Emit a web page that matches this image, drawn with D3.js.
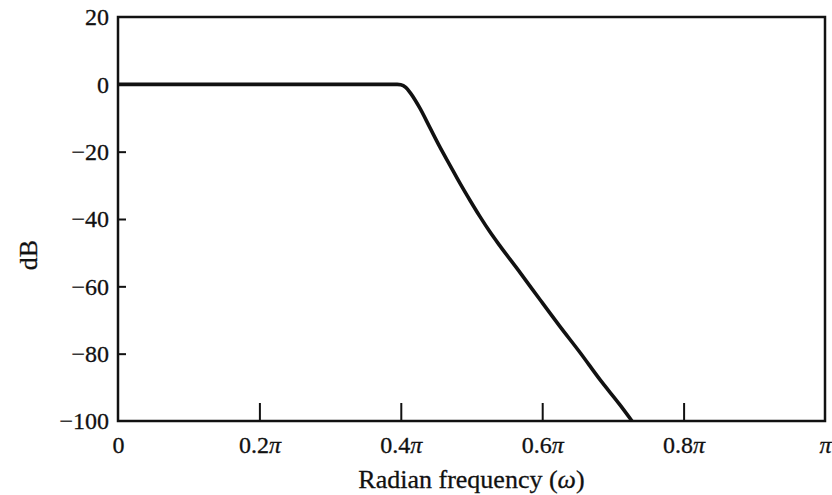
<!DOCTYPE html>
<html>
<head>
<meta charset="utf-8">
<script src="https://cdn.jsdelivr.net/npm/d3@7"></script>
<style>
  body { margin: 0; background: #fff; }
  svg { display: block; font-family: "Liberation Serif", "DejaVu Serif", serif; }
  .axis path { display: none; }
  .axis line { stroke: #111; stroke-width: 2; }
  .axis text { fill: #111; stroke: #111; stroke-width: 0.3; font-size: 24px; font-family: "Liberation Serif", "DejaVu Serif", serif; }
</style>
</head>
<body>
<svg width="832" height="495"></svg>
<script>
// frequency in units of pi, magnitude in dB
var freq = [0, 0.1, 0.2, 0.3, 0.38, 0.395, 0.400, 0.407, 0.414, 0.427, 0.441, 0.455, 0.470, 0.484, 0.498, 0.512, 0.526, 0.540, 0.569, 0.597, 0.625, 0.654, 0.682, 0.710, 0.727];
var gainDb = [0, 0, 0, 0, 0, 0, -0.1, -0.9, -2.7, -7.1, -12.8, -18.5, -24.2, -29.5, -34.5, -39.3, -43.8, -47.9, -56.0, -64.0, -71.9, -79.8, -87.8, -95.2, -100];
var xTicks = [0, 0.2, 0.4, 0.6, 0.8, 1];
var yTicks = [-100, -80, -60, -40, -20, 0, 20];

var svg = d3.select('svg');
var mLeft = 118, mRight = 825, mTop = 17, mBottom = 421;

var x = d3.scaleLinear().domain([0, 1]).range([mLeft, mRight]);
var y = d3.scaleLinear().domain([-100, 20]).range([mBottom, mTop]);

// x axis, ticks pointing up into the plot
var xAxis = svg.append('g')
    .attr('class', 'axis')
    .attr('transform', 'translate(0,' + mBottom + ')')
    .call(d3.axisBottom(x).tickValues(xTicks).tickSizeInner(-18).tickSizeOuter(0).tickPadding(15).tickFormat(''));

xAxis.selectAll('.tick text').each(function(d) {
    var t = d3.select(this);
    if (d !== 0) {
        if (d !== 1) t.append('tspan').text(d3.format('.1f')(d));
        t.append('tspan').attr('font-style', 'italic').text('\u03c0');
    } else {
        t.text('0');
    }
});
xAxis.selectAll('.tick line').filter(function(d) { return d === 0 || d === 1; }).remove();

// y axis, ticks pointing right
var yAxis = svg.append('g')
    .attr('class', 'axis')
    .attr('transform', 'translate(' + mLeft + ',0)')
    .call(d3.axisLeft(y).tickValues(yTicks).tickSizeInner(-8).tickSizeOuter(0).tickPadding(9)
        .tickFormat(function(d) { return d < 0 ? '\u2212' + Math.abs(d) : d; }));
yAxis.selectAll('.tick line').filter(function(d) { return d === -100 || d === 20; }).remove();

// frame
svg.append('rect')
    .attr('x', mLeft)
    .attr('y', mTop)
    .attr('width', mRight - mLeft)
    .attr('height', mBottom - mTop)
    .attr('fill', 'none')
    .attr('stroke', '#111')
    .attr('stroke-width', 2.5);

// response curve
var pts = freq.map(function(f, i) { return [f, gainDb[i]]; });
var line = d3.line()
    .x(function(d) { return x(d[0]); })
    .y(function(d) { return y(d[1]); })
    .curve(d3.curveMonotoneX);

svg.append('path')
    .datum(pts)
    .attr('d', line)
    .attr('fill', 'none')
    .attr('stroke', '#111')
    .attr('stroke-width', 3.6)
    .attr('stroke-linejoin', 'round');

// axis titles
var xTitle = svg.append('text')
    .attr('x', (mLeft + mRight) / 2)
    .attr('y', 488)
    .attr('text-anchor', 'middle')
    .attr('font-size', 26)
    .attr('fill', '#111')
    .attr('stroke', '#111')
    .attr('stroke-width', 0.3);
xTitle.append('tspan').text('Radian frequency (');
xTitle.append('tspan').attr('font-style', 'italic').text('\u03c9');
xTitle.append('tspan').text(')');

svg.append('text')
    .attr('transform', 'translate(37,255) rotate(-90)')
    .attr('text-anchor', 'middle')
    .attr('font-size', 26)
    .attr('fill', '#111')
    .attr('stroke', '#111')
    .attr('stroke-width', 0.3)
    .text('dB');
</script>
</body>
</html>
